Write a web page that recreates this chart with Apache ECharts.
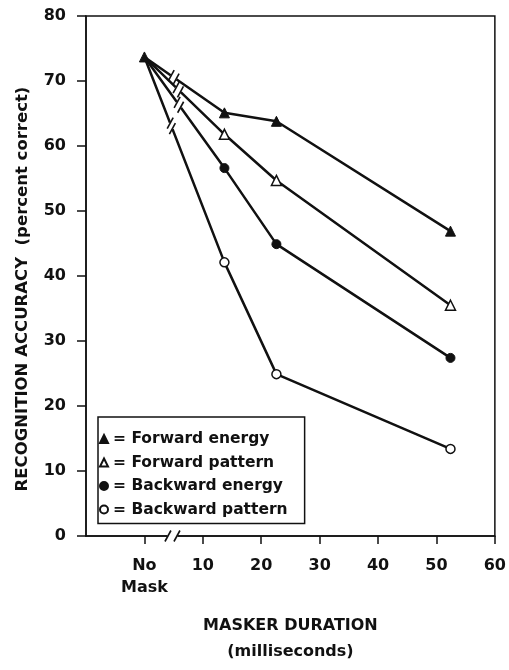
<!DOCTYPE html>
<html>
<head>
<meta charset="utf-8">
<script src="https://cdn.jsdelivr.net/npm/echarts@6/dist/echarts.min.js"></script>
<style>html,body{margin:0;padding:0;background:#fff;}#c{width:509px;height:670px;}</style>
</head>
<body>
<div id="c"></div>
<script>
const xValues = [0, 13.7, 22.6, 52.4];
const forwardEnergy = [73.7, 65.1, 63.8, 46.9];
const forwardPattern = [73.7, 61.8, 54.7, 35.5];
const backwardEnergy = [73.7, 56.6, 44.9, 27.4];
const backwardPattern = [73.7, 42.1, 24.9, 13.4];
const seriesNames = ['Forward energy', 'Forward pattern', 'Backward energy', 'Backward pattern'];
const yTicks = [0, 10, 20, 30, 40, 50, 60, 70, 80];
const xTicks = [0, 10, 20, 30, 40, 50, 60];
const xTickLabels = ['No\nMask', '10', '20', '30', '40', '50', '60'];
const breakX = [5.0, 5.8, 5.9, 4.6];
const axisBreakX = 4.8;

const seriesValues = [forwardEnergy, forwardPattern, backwardEnergy, backwardPattern];
const symbols = ['triangle', 'triangle', 'circle', 'circle'];
const filled = [true, false, true, false];
const INK = '#111';
const FONT = 'DejaVu Sans';

const chart = echarts.init(document.getElementById('c'), null, {renderer: 'canvas'});

const lineSeries = seriesValues.map((vals, i) => ({
  name: seriesNames[i],
  type: 'line',
  data: vals.map((v, k) => (k === 0 && i > 0) ? {value: [xValues[k], v], symbol: 'none'} : [xValues[k], v]),
  symbol: symbols[i],
  symbolSize: symbols[i] === 'triangle' ? 10 : 9,
  showSymbol: true,
  lineStyle: {color: INK, width: 2.5},
  itemStyle: filled[i] ? {color: INK, borderColor: INK, borderWidth: 1}
                       : {color: '#fff', borderColor: INK, borderWidth: 1.5},
  z: 2 + (3 - i) * 0.5,
  animation: false
}));

function slash(p) {
  return {
    type: 'line',
    shape: {x1: p[0] - 3, y1: p[1] + 5.5, x2: p[0] + 3, y2: p[1] - 5.5},
    style: {stroke: INK, lineWidth: 1.6}
  };
}

const breakSeries = {
  type: 'custom',
  silent: true,
  clip: false,
  z: 5,
  animation: false,
  data: seriesValues.map((v, i) => [i, 0]).concat([[-1, 0]]),
  encode: {x: 0, y: 1},
  renderItem: function (params, api) {
    const idx = params.dataIndex;
    if (idx >= seriesValues.length) {
      const c = api.coord([axisBreakX, 0]);
      return {
        type: 'group',
        children: [
          {type: 'rect', shape: {x: c[0] - 5, y: c[1] - 3, width: 10, height: 6}, style: {fill: '#fff'}},
          slash([c[0] - 4.5, c[1]]),
          slash([c[0] + 4.5, c[1]])
        ]
      };
    }
    const vals = seriesValues[idx];
    const a = api.coord([xValues[0], vals[0]]);
    const b = api.coord([xValues[1], vals[1]]);
    const t = (breakX[idx] - xValues[0]) / (xValues[1] - xValues[0]);
    const c = [a[0] + t * (b[0] - a[0]), a[1] + t * (b[1] - a[1])];
    const len = Math.hypot(b[0] - a[0], b[1] - a[1]);
    const u = [(b[0] - a[0]) / len, (b[1] - a[1]) / len];
    const h = 3;
    const p1 = [c[0] - h * u[0], c[1] - h * u[1]];
    const p2 = [c[0] + h * u[0], c[1] + h * u[1]];
    return {
      type: 'group',
      children: [
        {type: 'line', shape: {x1: c[0] - (h + 0.6) * u[0], y1: c[1] - (h + 0.6) * u[1], x2: c[0] + (h + 0.6) * u[0], y2: c[1] + (h + 0.6) * u[1]},
         style: {stroke: '#fff', lineWidth: 4.5, lineCap: 'butt'}},
        slash(p1),
        slash(p2)
      ]
    };
  }
};

const option = {
  backgroundColor: '#fff',
  animation: false,
  grid: {left: 86, right: 12, top: 16, bottom: 125, show: true, borderColor: INK, borderWidth: 1.5, backgroundColor: 'transparent'},
  legend: {
    left: 98, top: 417,
    orient: 'vertical',
    padding: [14, 17, 6, 1],
    itemGap: 7.5,
    itemWidth: 8, itemHeight: 8,
    borderColor: INK, borderWidth: 1.5,
    backgroundColor: '#fff',
    selectedMode: false,
    textStyle: {fontFamily: FONT, fontSize: 15.5, fontWeight: 'bold', color: INK},
    formatter: n => '= ' + n,
    data: seriesNames.map((n, i) => ({name: n, icon: symbols[i]}))
  },
  xAxis: {
    type: 'value',
    min: -10, max: 60,
    splitLine: {show: false},
    axisLine: {show: true, onZero: false, lineStyle: {color: INK, width: 1.5}},
    axisTick: {show: true, length: 8, lineStyle: {color: INK, width: 1.5}, customValues: xTicks},
    axisLabel: {
      customValues: xTicks,
      margin: 19,
      color: INK, fontFamily: FONT, fontSize: 16, fontWeight: 'bold', lineHeight: 22,
      formatter: v => { const k = xTicks.indexOf(v); return k >= 0 ? xTickLabels[k] : ''; }
    },
    name: 'MASKER DURATION\n(milliseconds)',
    nameLocation: 'middle',
    nameGap: 77,
    nameTextStyle: {color: INK, fontFamily: FONT, fontSize: 16, fontWeight: 'bold', lineHeight: 26, verticalAlign: 'top'}
  },
  yAxis: {
    type: 'value',
    min: 0, max: 80,
    splitLine: {show: false},
    axisLine: {show: true, onZero: false, lineStyle: {color: INK, width: 1.5}},
    axisTick: {show: true, length: 9, lineStyle: {color: INK, width: 1.5}, customValues: yTicks},
    axisLabel: {customValues: yTicks, margin: 20, color: INK, fontFamily: FONT, fontSize: 16, fontWeight: 'bold'},
    name: 'RECOGNITION ACCURACY  (percent correct)',
    nameLocation: 'middle',
    nameGap: 55,
    nameTextStyle: {color: INK, fontFamily: FONT, fontSize: 16.5, fontWeight: 'bold', padding: [0, 26, 0, 0]}
  },
  series: lineSeries.concat([breakSeries])
};

chart.setOption(option);
</script>
</body>
</html>
